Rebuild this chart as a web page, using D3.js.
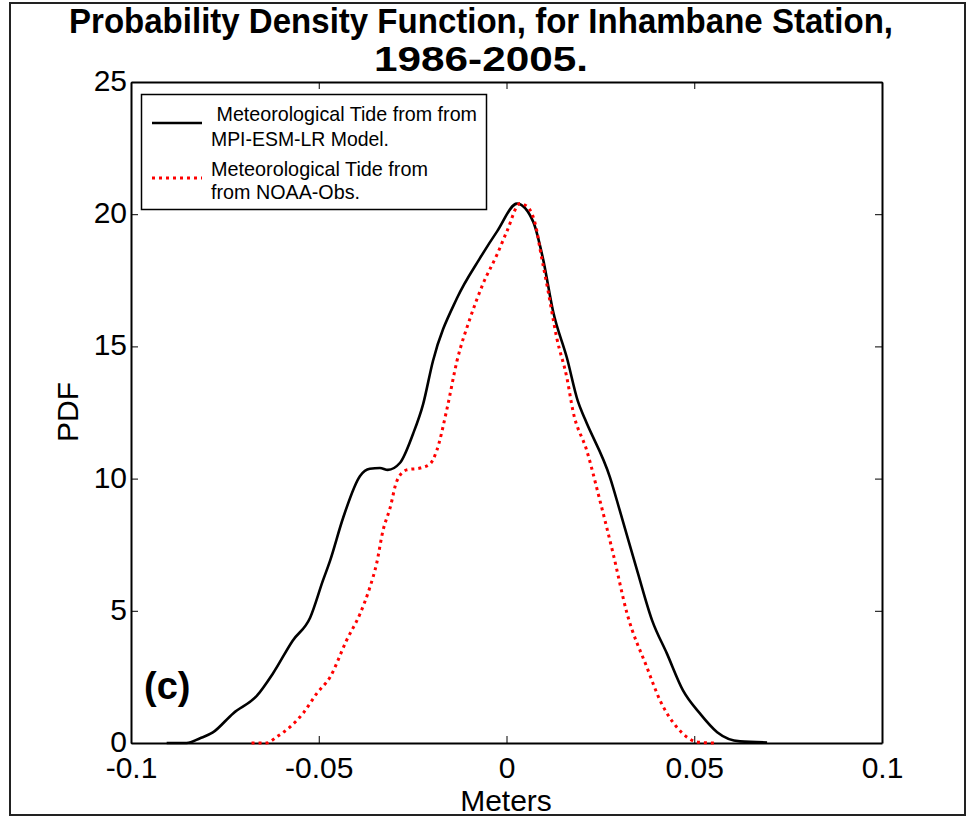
<!DOCTYPE html>
<html>
<head>
<meta charset="utf-8">
<script src="https://cdn.jsdelivr.net/npm/d3@7"></script>
<style>
  body { margin: 0; background: #fff; }
  svg { display: block; }
</style>
</head>
<body>
<svg id="chart" width="968" height="818"></svg>
<script>
(function () {
    'use strict';

    // tick values and labels
    var xTicks = [-0.1, -0.05, 0, 0.05, 0.1];
    var xTickLabels = ['-0.1', '-0.05', '0', '0.05', '0.1'];
    var yTicks = [0, 5, 10, 15, 20, 25];

    // MPI-ESM-LR model curve
    var modelX = [-0.0905, -0.0852, -0.0816, -0.0782, -0.0728, -0.0664, -0.0622, -0.0569, -0.0523,
        -0.0489, -0.0470, -0.0435, -0.0390, -0.0364, -0.0337, -0.0316, -0.0284, -0.0249, -0.0222,
        -0.0196, -0.0132, -0.0071, -0.0025, 0.0028, 0.0071, 0.0097, 0.0124, 0.0161, 0.0190, 0.0209,
        0.0276, 0.0302, 0.0348, 0.0388, 0.0427, 0.0470, 0.0515, 0.0561, 0.0622, 0.0694];
    var modelY = [0, 0, 0.18, 0.40, 1.12, 1.80, 2.63, 3.88, 4.74,
        6.14, 6.89, 8.52, 10.10, 10.37, 10.40, 10.33, 10.59, 11.69, 12.82,
        14.44, 16.82, 18.33, 19.35, 20.40, 19.72, 18.33, 16.33, 14.56, 12.93, 12.25,
        10.03, 8.78, 6.52, 4.63, 3.39, 1.99, 1.12, 0.41, 0.06, 0.02];

    // NOAA observed curve
    var obsX = [-0.0679, -0.0639, -0.0612, -0.0577, -0.0542, -0.0505, -0.0470, -0.0426, -0.0390,
        -0.0364, -0.0346, -0.0329, -0.0310, -0.0292, -0.0266, -0.0230, -0.0204, -0.0186, -0.0158,
        -0.0132, -0.0097, -0.0063, -0.0025, 0.0001, 0.0036, 0.0055, 0.0081, 0.0089, 0.0111, 0.0134,
        0.0161, 0.0177, 0.0214, 0.0249, 0.0284, 0.0321, 0.0374, 0.0409, 0.0454, 0.0481, 0.0510, 0.0555];
    var obsY = [0, 0, 0.23, 0.60, 1.12, 1.88, 2.49, 3.88, 4.89,
        5.88, 6.78, 8.03, 8.89, 9.91, 10.33, 10.40, 10.55, 11.05, 12.67,
        14.44, 16.06, 17.35, 18.48, 19.35, 20.40, 20.29, 19.35, 18.71, 17.08, 15.31,
        13.80, 12.56, 11.05, 9.16, 7.16, 4.90, 2.86, 1.61, 0.59, 0.22, 0.03, 0];

    var legendLabels = [
        [' Meteorological Tide from from', 'MPI-ESM-LR Model.'],
        ['Meteorological Tide from', 'from NOAA-Obs.']
    ];

    var svg = d3.select('#chart');
    var font = '"Liberation Sans", Arial, sans-serif';

    var left = 131, right = 882, top = 82, bottom = 743;

    var x = d3.scaleLinear().domain([-0.1, 0.1]).range([left, right]);
    var y = d3.scaleLinear().domain([0, 25]).range([bottom, top]);

    // outer frame
    svg.append('rect')
        .attr('x', 10).attr('y', 3)
        .attr('width', 955).attr('height', 812)
        .attr('fill', 'none')
        .attr('stroke', '#222')
        .attr('stroke-width', 2);

    // axes, MATLAB style: ticks pointing in on all four sides
    function styleAxis(g) {
        g.select('.domain').attr('stroke', '#000').attr('stroke-width', 2);
        g.selectAll('.tick line').attr('stroke', '#000').attr('stroke-width', 1);
        g.selectAll('text')
            .attr('fill', '#000')
            .style('font-family', font)
            .style('font-size', '30px');
    }

    svg.append('g')
        .attr('transform', 'translate(0,' + bottom + ')')
        .call(d3.axisBottom(x).tickValues(xTicks)
            .tickFormat(function (d, i) { return xTickLabels[i]; })
            .tickSizeInner(-7).tickSizeOuter(0).tickPadding(14))
        .call(styleAxis);

    svg.append('g')
        .attr('transform', 'translate(0,' + top + ')')
        .call(d3.axisTop(x).tickValues(xTicks).tickFormat('')
            .tickSizeInner(-7).tickSizeOuter(0))
        .call(styleAxis);

    var yAxisG = svg.append('g')
        .attr('transform', 'translate(' + left + ',0)')
        .call(d3.axisLeft(y).tickValues(yTicks).tickFormat(d3.format('d'))
            .tickSizeInner(-7).tickSizeOuter(0).tickPadding(4))
        .call(styleAxis);
    // lift the labels a touch so "0" clears "-0.1"
    yAxisG.selectAll('text').attr('dy', '0.28em');

    svg.append('g')
        .attr('transform', 'translate(' + right + ',0)')
        .call(d3.axisRight(y).tickValues(yTicks).tickFormat('')
            .tickSizeInner(-7).tickSizeOuter(0))
        .call(styleAxis);

    // curves
    var line = d3.line()
        .x(function (d) { return x(d[0]); })
        .y(function (d) { return y(d[1]); })
        .curve(d3.curveMonotoneX);

    var obsData = d3.zip(obsX, obsY);
    var modelData = d3.zip(modelX, modelY);

    svg.append('path')
        .attr('d', line(modelData))
        .attr('fill', 'none')
        .attr('stroke', '#000')
        .attr('stroke-width', 2.6);

    svg.append('path')
        .attr('d', line(obsData))
        .attr('fill', 'none')
        .attr('stroke', '#ff0000')
        .attr('stroke-width', 3)
        .attr('stroke-dasharray', '3,4');

    // title (condensed bold, like the original)
    var title = svg.append('g')
        .style('font-family', font)
        .style('font-weight', 'bold')
        .style('font-size', '35px');
    title.append('text')
        .attr('x', 481).attr('y', 33)
        .attr('text-anchor', 'middle')
        .attr('textLength', 824)
        .attr('lengthAdjust', 'spacingAndGlyphs')
        .text('Probability Density Function, for Inhambane Station,');
    title.append('text')
        .attr('x', 481).attr('y', 71)
        .attr('text-anchor', 'middle')
        .attr('textLength', 214)
        .attr('lengthAdjust', 'spacingAndGlyphs')
        .text('1986-2005.');

    // axis labels
    svg.append('text')
        .attr('x', 506).attr('y', 811)
        .attr('text-anchor', 'middle')
        .style('font-family', font)
        .style('font-size', '30px')
        .text('Meters');

    svg.append('text')
        .attr('transform', 'translate(78,412) rotate(-90)')
        .attr('text-anchor', 'middle')
        .style('font-family', font)
        .style('font-size', '30px')
        .text('PDF');

    // panel letter
    svg.append('text')
        .attr('x', 144).attr('y', 699)
        .style('font-family', font)
        .style('font-weight', 'bold')
        .style('font-size', '38px')
        .text('(c)');

    // legend
    var lg = svg.append('g');
    lg.append('rect')
        .attr('x', 141.5).attr('y', 94.5)
        .attr('width', 345).attr('height', 115)
        .attr('fill', '#fff')
        .attr('stroke', '#000')
        .attr('stroke-width', 1.5);

    lg.append('line')
        .attr('x1', 152).attr('x2', 202)
        .attr('y1', 123).attr('y2', 123)
        .attr('stroke', '#000').attr('stroke-width', 2.6);
    lg.append('line')
        .attr('x1', 152).attr('x2', 202)
        .attr('y1', 178).attr('y2', 178)
        .attr('stroke', '#ff0000').attr('stroke-width', 3)
        .attr('stroke-dasharray', '3,4');

    var legendRows = [
        { text: legendLabels[0][0], y: 121, w: 266, xs: 211 },
        { text: legendLabels[0][1], y: 146, w: 178, xs: 211 },
        { text: legendLabels[1][0], y: 176, w: 217, xs: 211 },
        { text: legendLabels[1][1], y: 199, w: 149, xs: 211 }
    ];
    lg.selectAll('text.leg')
        .data(legendRows)
        .enter().append('text')
        .attr('class', 'leg')
        .attr('x', function (d) { return d.xs; })
        .attr('y', function (d) { return d.y; })
        .attr('textLength', function (d) { return d.w; })
        .attr('lengthAdjust', 'spacingAndGlyphs')
        .attr('xml:space', 'preserve')
        .style('white-space', 'pre')
        .style('font-family', font)
        .style('font-size', '21px')
        .text(function (d) { return d.text; });
}());
</script>
</body>
</html>
